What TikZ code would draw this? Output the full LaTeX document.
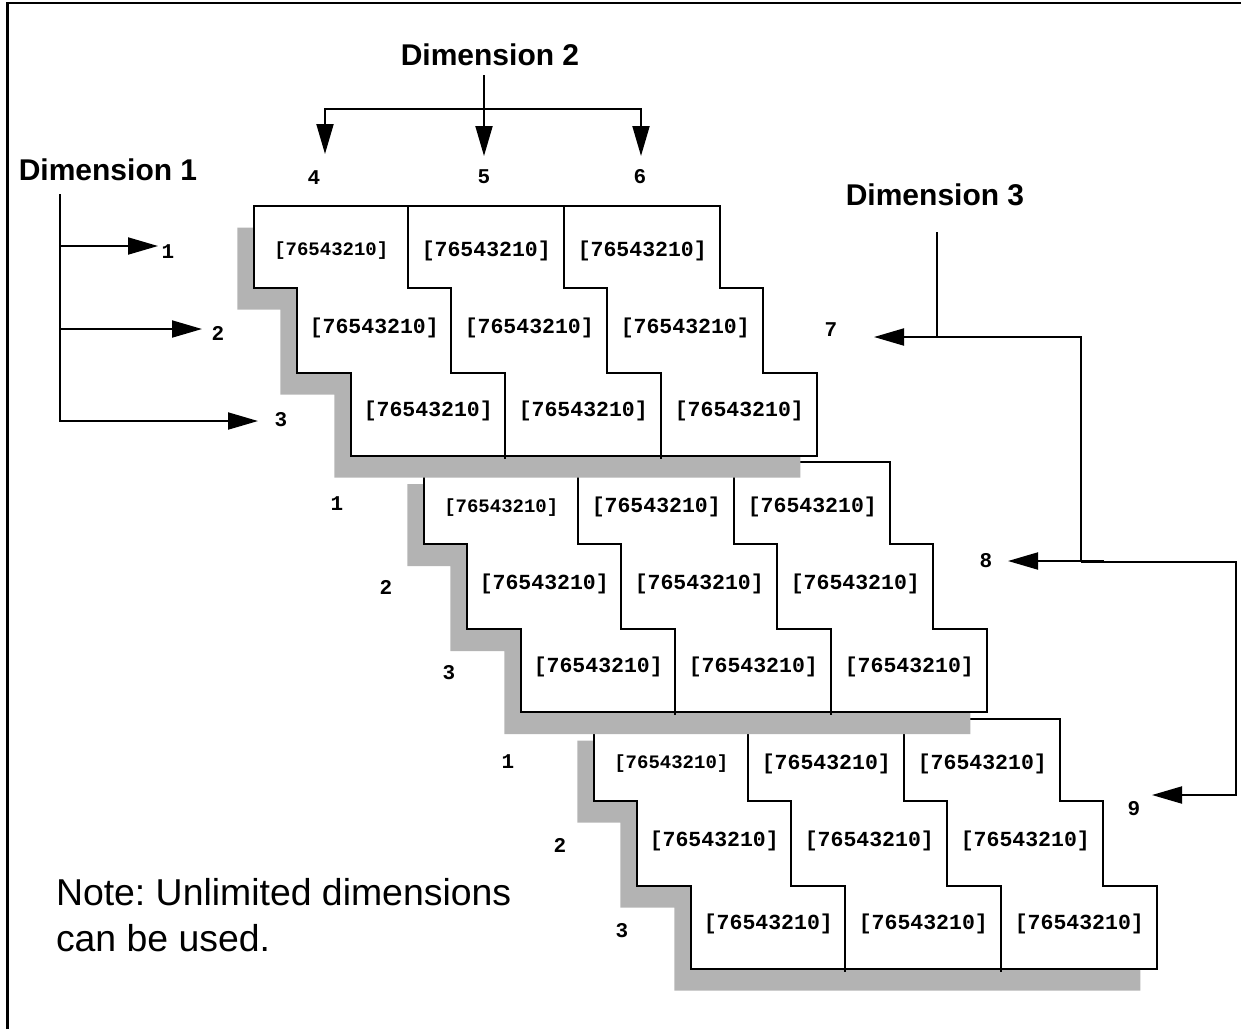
\documentclass[tikz,border=0pt]{standalone}
\usepackage{fontspec}
\setmainfont{Liberation Sans}
\newfontfamily\cellmono{Liberation Mono}
\usetikzlibrary{arrows.meta}
\definecolor{shadowgray}{RGB}{179,179,179}
\frenchspacing

\tikzset{
  every node/.style={inner sep=0pt, outer sep=0pt},
  rule/.style={line width=1pt, line cap=rect},
  arr/.style={line width=1pt, -{Triangle[length=15pt,width=8.5pt]}},
  cellbig/.style={font=\cellmono\bfseries\fontsize{10.75}{12}\selectfont},
  cellsmall/.style={font=\cellmono\bfseries\fontsize{9.5}{11}\selectfont},
  idx/.style={font=\cellmono\bfseries\fontsize{10.5}{12}\selectfont},
  dimtitle/.style={font=\bfseries\fontsize{15}{18}\selectfont, anchor=base},
  notetext/.style={font=\fontsize{18.7}{22}\selectfont, anchor=base west},
  dropshadow/.style={fill=shadowgray, draw=none},
}

% One 3x3 stepped array block with its grey drop shadow.
% #1,#2: top-left corner; #3: prefix for the cell node names
\newcommand\arrayblock[3]{%
  \begin{scope}[shift={(#1,#2)}]
    \path[dropshadow] (-17,22) -- (449,22) -- (449,104) -- (492,104) -- (492,189)
      -- (546,189) -- (546,272) -- (80,272) -- (80,189) -- (26,189)
      -- (26,104) -- (-17,104) -- cycle;
    \draw[rule, fill=white] (0,0) -- (466,0) -- (466,82) -- (509,82)
      -- (509,167) -- (563,167) -- (563,250) -- (97,250) -- (97,167)
      -- (43,167) -- (43,82) -- (0,82) -- cycle;
    \draw[rule] (154,0) -- (154,82) -- (197,82) -- (197,167) -- (251,167) -- (251,252);
    \draw[rule] (310,0) -- (310,82) -- (353,82) -- (353,167) -- (407,167) -- (407,252);
    \node[cellsmall] (#3-11) at (77,45)  {[76543210]};
    \node[cellbig]   (#3-12) at (232,45) {[76543210]};
    \node[cellbig]   (#3-13) at (388,45) {[76543210]};
    \node[cellbig]   (#3-21) at (120,122) {[76543210]};
    \node[cellbig]   (#3-22) at (275,122) {[76543210]};
    \node[cellbig]   (#3-23) at (431,122) {[76543210]};
    \node[cellbig]   (#3-31) at (174,205) {[76543210]};
    \node[cellbig]   (#3-32) at (329,205) {[76543210]};
    \node[cellbig]   (#3-33) at (485,205) {[76543210]};
  \end{scope}}

\begin{document}
\begin{tikzpicture}[x=0.5pt,y=-0.5pt]
\useasboundingbox (0,0) rectangle (1241,1029);

% frame: top and left edges
\draw[line width=1.2pt] (7.5,1029) -- (7.5,3) -- (1241,3);

% the three blocks, back to front
\arrayblock{594.3}{718.7}{c}
\arrayblock{424.3}{462.2}{b}
\arrayblock{254.3}{205.7}{a}

% row indices beside the lower blocks
\node[idx] (b1) at (337,504) {1};
\node[idx] (b2) at (386,587) {2};
\node[idx] (b3) at (449,673) {3};
\node[idx] (c1) at (508,762) {1};
\node[idx] (c2) at (560,845) {2};
\node[idx] (c3) at (622,931) {3};

% Dimension 1
\node[dimtitle] (dim1) at (108,180) {Dimension 1};
\coordinate (d1top) at (59.5,195);
\coordinate (d1j1) at (59.5,246);
\coordinate (d1j2) at (59.5,329);
\coordinate (d1j3) at (59.5,421);
\coordinate (d1t1) at (158,246);
\coordinate (d1t2) at (202,329);
\coordinate (d1t3) at (258,421);
\draw[rule] (d1top) -- (d1j2);
\draw[arr] (d1j1) -- (d1t1);
\draw[arr] (d1j2) -- (d1t2);
\draw[arr] (d1j2) -- (d1j3) -- (d1t3);
\node[idx] (a1) at (168,251.5) {1};
\node[idx] (a2) at (218,333) {2};
\node[idx] (a3) at (281,419.5) {3};

% Dimension 2
\node[dimtitle] (dim2) at (490,65) {Dimension 2};
\coordinate (d2stem) at (484,75);
\coordinate (d2l) at (325,109);
\coordinate (d2m) at (484,109);
\coordinate (d2r) at (641,109);
\coordinate (d2t4) at (325,154);
\coordinate (d2t5) at (484,156);
\coordinate (d2t6) at (641,156);
\draw[arr] (d2stem) -- (d2t5);
\draw[arr] (d2m) -- (d2l) -- (d2t4);
\draw[arr] (d2m) -- (d2r) -- (d2t6);
\node[idx] (a4) at (314,178) {4};
\node[idx] (a5) at (484,176.5) {5};
\node[idx] (a6) at (640,177) {6};

% Dimension 3
\node[dimtitle] (dim3) at (935,205) {Dimension 3};
\coordinate (d3top) at (937,233);
\coordinate (d3j) at (937,337);
\coordinate (d3k) at (1081,337);
\coordinate (d3l) at (1081,562);
\coordinate (d3s) at (1104,561);
\coordinate (d3m) at (1236,562);
\coordinate (d3n) at (1236,795);
\coordinate (d3t7) at (874,337);
\coordinate (d3t8) at (1008,561);
\coordinate (d3t9) at (1152,795);
\draw[rule] (d3top) -- (d3j);
\draw[arr] (d3l) -- (d3k) -- (d3t7);
\draw[arr] (d3s) -- (d3t8);
\draw[arr] (d3l) -- (d3m) -- (d3n) -- (d3t9);
\node[idx] (a7) at (831,330) {7};
\node[idx] (a8) at (986,561) {8};
\node[idx] (a9) at (1134,809) {9};

% note
\node[notetext] (note1) at (56,905) {Note: Unlimited dimensions};
\node[notetext] (note2) at (56,951) {can be used.};
\end{tikzpicture}
\end{document}
